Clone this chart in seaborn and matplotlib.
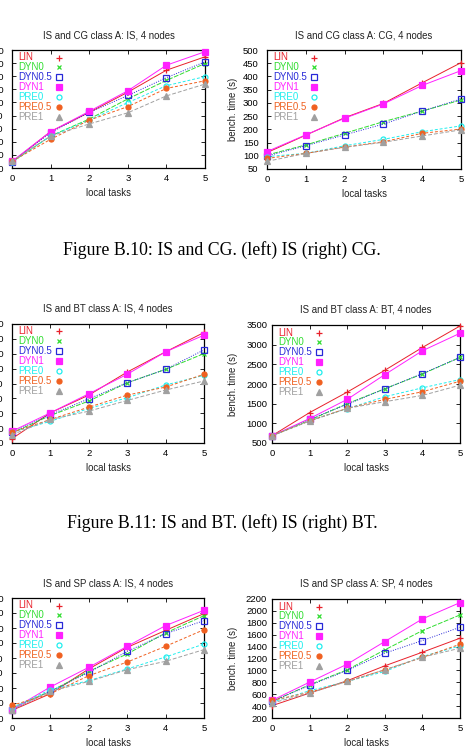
import numpy as np
import pandas as pd
import matplotlib
matplotlib.use("Agg")
import matplotlib.pyplot as plt
import seaborn as sns

sns.set_theme(style="white")
plt.rcParams['font.family'] = ['Liberation Sans', 'DejaVu Sans']

tasks = [0, 1, 2, 3, 4, 5]
series = ["LIN", "DYN0", "DYN0.5", "DYN1", "PRE0", "PRE0.5", "PRE1"]

# IS and CG: IS panel
is_cg_is = {
    "LIN":    [14.6, 37.8, 52.4, 67.8, 84.6, 94.8],
    "DYN0":   [14.6, 34.4, 47.3, 62.7, 76.8, 89.7],
    "DYN0.5": [14.6, 37.0, 52.4, 65.3, 78.9, 91.0],
    "DYN1":   [15.1, 37.8, 53.2, 68.9, 88.4, 98.7],
    "PRE0":   [14.6, 34.4, 46.5, 59.9, 72.8, 79.7],
    "PRE0.5": [15.1, 31.9, 46.5, 56.8, 70.7, 76.5],
    "PRE1":   [15.1, 34.4, 43.6, 52.1, 65.0, 74.0],
}
# IS and CG: CG panel
is_cg_cg = {
    "LIN":    [112, 178, 244, 298, 376, 452],
    "DYN0":   [103, 141, 185, 229, 269, 311],
    "DYN0.5": [99, 138, 179, 220, 269, 315],
    "DYN1":   [116, 179, 242, 296, 366, 422],
    "PRE0":   [97, 109, 138, 162, 191, 213],
    "PRE0.5": [90, 109, 133, 153, 185, 201],
    "PRE1":   [79, 109, 132, 151, 175, 198],
}
# IS and BT: IS panel
is_bt_is = {
    "LIN":    [12.9, 30.3, 42.2, 57.7, 71.3, 84.3],
    "DYN0":   [16.8, 28.5, 38.2, 50.5, 59.5, 70.1],
    "DYN0.5": [17.2, 29.1, 39.7, 50.5, 59.5, 72.6],
    "DYN1":   [17.9, 30.3, 43.1, 56.2, 71.3, 82.5],
    "PRE0":   [17.2, 24.6, 33.2, 40.4, 49.0, 55.5],
    "PRE0.5": [17.2, 25.8, 34.1, 42.2, 47.6, 56.2],
    "PRE1":   [15.6, 25.8, 31.4, 38.6, 45.6, 51.7],
}
# IS and BT: BT panel
is_bt_bt = {
    "LIN":    [685, 1273, 1794, 2349, 2929, 3475],
    "DYN0":   [685, 1080, 1500, 1878, 2256, 2676],
    "DYN0.5": [685, 1105, 1483, 1878, 2265, 2676],
    "DYN1":   [685, 1122, 1609, 2239, 2845, 3290],
    "PRE0":   [685, 1063, 1374, 1676, 1903, 2113],
    "PRE0.5": [685, 1063, 1382, 1609, 1803, 2071],
    "PRE1":   [685, 1063, 1382, 1550, 1710, 1970],
}
# IS and SP: IS panel
is_sp_is = {
    "LIN":    [15.1, 26.2, 42.7, 57.1, 68.4, 79.6],
    "DYN0":   [16.7, 27.8, 41.1, 52.7, 66.7, 78.2],
    "DYN0.5": [15.6, 27.8, 40.4, 54.4, 66.2, 74.9],
    "DYN1":   [15.6, 30.7, 43.8, 57.8, 71.6, 81.8],
    "PRE0":   [16.7, 28.9, 34.9, 42.7, 50.7, 59.3],
    "PRE0.5": [18.4, 26.2, 38.2, 47.3, 57.8, 68.9],
    "PRE1":   [15.6, 27.8, 34.4, 42.2, 47.8, 55.6],
}
# IS and SP: SP panel
is_sp_sp = {
    "LIN":    [407, 619, 826, 1077, 1306, 1541],
    "DYN0":   [479, 759, 1010, 1345, 1669, 1932],
    "DYN0.5": [479, 748, 999, 1289, 1502, 1725],
    "DYN1":   [496, 803, 1105, 1485, 1865, 2139],
    "PRE0":   [468, 658, 815, 982, 1233, 1412],
    "PRE0.5": [496, 630, 815, 1010, 1217, 1440],
    "PRE1":   [451, 619, 815, 1010, 1222, 1373],
}

titles = ["IS and CG class A: IS, 4 nodes", "IS and CG class A: CG, 4 nodes",
          "IS and BT class A: IS, 4 nodes", "IS and BT class A: BT, 4 nodes",
          "IS and SP class A: IS, 4 nodes", "IS and SP class A: SP, 4 nodes"]
captions = ["Figure B.10: IS and CG. (left) IS (right) CG.",
            "Figure B.11: IS and BT. (left) IS (right) BT."]

colors = {"LIN": "#e8202a", "DYN0": "#30dd30", "DYN0.5": "#2828d8", "DYN1": "#ff20ff",
          "PRE0": "#20eeee", "PRE0.5": "#f06020", "PRE1": "#a0a0a0"}
markers = {"LIN": "+", "DYN0": "x", "DYN0.5": "s", "DYN1": "s",
           "PRE0": "o", "PRE0.5": "o", "PRE1": "^"}
filled = {"LIN": True, "DYN0": True, "DYN0.5": False, "DYN1": True,
          "PRE0": False, "PRE0.5": True, "PRE1": True}
lstyles = {"LIN": "-", "DYN0": (0, (5, 1.5)), "DYN0.5": (0, (1, 1.5)), "DYN1": "-",
           "PRE0": (0, (3, 2)), "PRE0.5": (0, (3, 2)), "PRE1": (0, (4, 2))}
msizes = {"LIN": 4.5, "DYN0": 3.5, "DYN0.5": 4.0, "DYN1": 4.0,
          "PRE0": 3.6, "PRE0.5": 3.6, "PRE1": 3.8}

W, H = 470, 750
fig = plt.figure(figsize=(W / 100, H / 100), dpi=100)


def px_axes(l, t, r, b):
    return fig.add_axes([l / W, 1 - b / H, (r - l) / W, (b - t) / H])


panels = [
    (is_cg_is, (12, 50, 205, 168), np.arange(10, 101, 10), 6.0, False),
    (is_cg_cg, (267, 50, 461, 169), np.arange(50, 501, 50), 6.0, True),
    (is_bt_is, (12, 324, 204, 443), np.arange(10, 91, 10), 6.0, False),
    (is_bt_bt, (272, 325, 460, 443), np.arange(500, 3501, 500), 3.5, True),
    (is_sp_is, (12, 598, 204, 718), np.arange(10, 91, 10), 6.0, False),
    (is_sp_sp, (272, 599, 460, 718), np.arange(200, 2201, 200), 3.5, True),
]

for i, (data, (l, t, r, b), yticks, ypad, right) in enumerate(panels):
    ax = px_axes(l, t, r, b)
    for s in series:
        df = pd.DataFrame({"tasks": tasks, "time": data[s]})
        sns.lineplot(data=df, x="tasks", y="time", ax=ax, color=colors[s],
                     linestyle=lstyles[s], linewidth=0.7, marker=markers[s],
                     markersize=msizes[s], markeredgewidth=0.9,
                     markerfacecolor=colors[s] if filled[s] else "none",
                     markeredgecolor=colors[s], legend=False, clip_on=False,
                     zorder=3)
    ax.set_xlim(0, 5)
    ax.set_ylim(yticks[0], yticks[-1])
    ax.set_xticks(tasks)
    ax.set_yticks(yticks)
    ax.set_xlabel("")
    ax.set_ylabel("")
    ax.tick_params(direction="in", length=3, width=0.6, colors="black",
                   labelsize=6.8, top=True, right=True, bottom=True, left=True)
    ax.tick_params(axis="x", pad=4)
    ax.tick_params(axis="y", pad=ypad)
    for sp in ax.spines.values():
        sp.set_color("black")
        sp.set_linewidth(0.9)
    ax.set_facecolor("white")
    aw, ah = r - l, b - t
    ax.text(0.5, 1 + 15 / ah, titles[i], transform=ax.transAxes, ha="center",
            va="center", fontsize=6.9, color="#222222")
    fig.text((l + r) / 2 / W, 1 - (b + 25) / H, "local tasks", ha="center",
             va="center", fontsize=6.9, color="#222222")
    if right:
        fig.text(233 / W, 1 - (t + b) / 2 / H, "bench. time (s)", rotation=90,
                 ha="center", va="center", fontsize=6.9, color="#222222")
    # gnuplot-style key: left-justified text, sample point in a column on the right
    for k, s in enumerate(series):
        yk = 1 - (7.5 + 9.9 * k) / ah
        ax.text(6 / aw, yk, s, transform=ax.transAxes, ha="left", va="center",
                fontsize=7, color=colors[s])
        ax.plot([47 / aw], [yk], transform=ax.transAxes, marker=markers[s],
                markersize=msizes[s], markeredgewidth=0.9, linestyle="none",
                markerfacecolor=colors[s] if filled[s] else "none",
                markeredgecolor=colors[s], clip_on=False)

fig.text(222 / W, 1 - 250 / H, captions[0], ha="center", va="center",
         family=["Liberation Serif", "DejaVu Serif"], fontsize=12.8, color="black")
fig.text(222 / W, 1 - 523 / H, captions[1], ha="center", va="center",
         family=["Liberation Serif", "DejaVu Serif"], fontsize=12.8, color="black")

fig.savefig("out.png", dpi=100, facecolor="white")
